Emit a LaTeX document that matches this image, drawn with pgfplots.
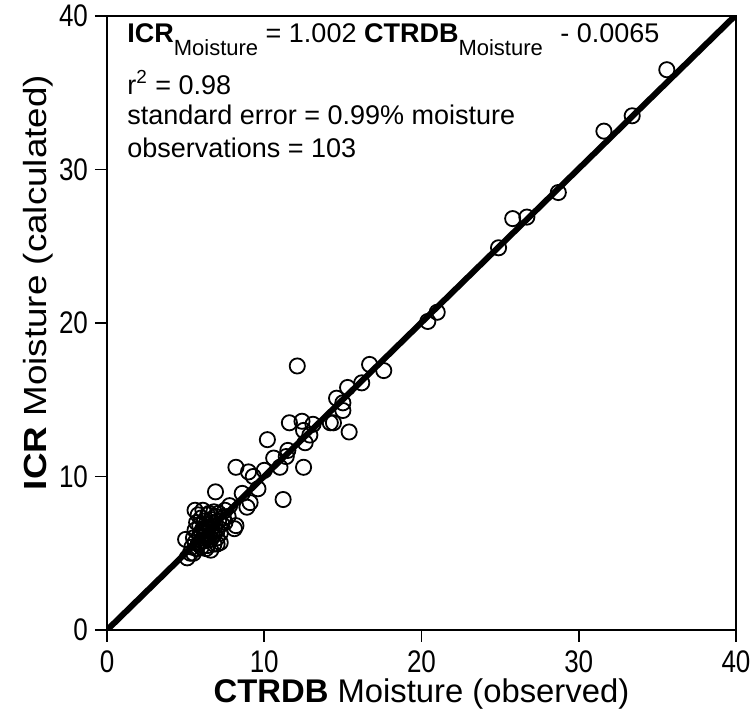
\documentclass[border=0pt]{standalone}
\usepackage{fontspec}
\setmainfont{Liberation Sans}
\usepackage{pgfplots}
\pgfplotsset{compat=1.18}

\newcommand{\sub}{\raisebox{-6.5pt}{\fontsize{11}{13}\selectfont Moisture}}

\begin{document}
\begin{tikzpicture}
\begin{axis}[
  scale only axis,
  width=314.5pt, height=307pt,
  xmin=0, xmax=40, ymin=0, ymax=40,
  xtick={0,10,20,30,40}, ytick={0,10,20,30,40},
  tick pos=left, tick align=outside,
  major tick length=6pt,
  axis line style={line width=1pt},
  every tick/.style={black, line width=0.8pt},
  tick label style={font=\fontsize{13}{15}\selectfont},
  xticklabel={\scalebox{1}[1.2]{\pgfmathprintnumber[assume math mode=true]{\tick}}},
  yticklabel={\scalebox{1}[1.2]{\pgfmathprintnumber[assume math mode=true]{\tick}}},
  xticklabel style={yshift=-1pt},
  xlabel={\textbf{CTRDB} Moisture (observed)},
  ylabel={\scalebox{1.15}[1]{\textbf{ICR} Moisture (calculated)}},
  xlabel style={font=\fontsize{16.4}{19}\selectfont, yshift=4pt},
  ylabel style={font=\fontsize{16}{19}\selectfont, at={(ticklabel cs:0.566)}, yshift=-4pt},
  clip=true,
]
\addplot[only marks, mark=o, mark size=3.8pt, mark options={line width=0.9pt, black}] coordinates {
(35.6,36.5) (33.4,33.5) (31.6,32.5) (28.7,28.5) (26.7,26.9) (25.8,26.8)
(24.9,24.9) (21.0,20.7) (20.4,20.1) (17.6,16.9) (16.7,17.3) (12.1,17.2)
(16.2,16.1) (15.3,15.8) (14.6,15.1) (15.0,14.8) (15.0,14.3) (15.4,12.9)
(14.2,13.5) (14.4,13.5) (11.6,13.5) (12.4,13.6) (13.1,13.4) (12.5,13.0)
(12.9,12.7) (12.6,12.2) (10.2,12.4) (11.5,11.7) (11.4,11.3) (10.6,11.2)
(12.5,10.6) (11.0,10.6) (10.0,10.4) (8.2,10.6) (9.0,10.3) (9.3,10.0)
(9.6,9.2) (6.9,9.0) (8.6,8.9) (9.1,8.3) (8.9,8.0) (11.2,8.5)
(8.2,6.8) (8.1,6.6) (7.8,8.1) (7.5,7.8)
(5.3,5.0) (5.1,4.7) (5.0,5.9) (6.6,5.2) (7.2,5.7) (5.6,7.8)
(5.5,6.0) (5.6,6.5) (5.7,7.0) (5.8,5.6) (5.9,6.2) (5.9,6.8) (6.0,7.3)
(6.0,5.4) (6.1,6.0) (6.1,6.6) (6.2,7.1) (6.2,5.8) (6.3,6.3) (6.3,6.9)
(6.4,7.5) (6.4,5.5) (6.5,6.1) (6.5,6.7) (6.6,7.2) (6.6,5.9) (6.7,6.4)
(6.7,7.0) (6.8,5.6) (6.8,6.2) (6.9,6.8) (6.9,7.4) (7.0,6.0) (7.0,6.5)
(7.1,7.1) (7.2,6.3) (7.3,6.9) (7.4,7.3) (5.4,5.4) (5.7,5.3) (6.0,6.4)
(6.2,6.5) (6.4,6.0) (6.5,7.6) (6.8,7.7) (7.1,7.6) (5.8,7.5) (6.1,7.8)
(6.3,5.3) (5.5,5.0) (7.5,7.0) (7.7,7.4) (6.6,6.5) (6.0,5.8) (5.6,5.7)
(7.0,5.6) (6.3,6.6)
};
\addplot[black, line width=3pt] coordinates {(0,-0.0065) (40,40.0735)};
\node[anchor=base west, font=\fontsize{13.5}{15}\selectfont, inner sep=0pt] at (axis cs:1.27,38.3)
  {\textbf{ICR}\sub{} = 1.002 \textbf{CTRDB}\sub{}\hspace{5pt} - 0.0065};
\node[anchor=base west, font=\fontsize{13.5}{15}\selectfont, inner sep=0pt] at (axis cs:1.27,34.9)
  {r\textsuperscript{2} = 0.98};
\node[anchor=base west, font=\fontsize{13.5}{15}\selectfont, inner sep=0pt] at (axis cs:1.27,32.9)
  {standard error = 0.99\% moisture};
\node[anchor=base west, font=\fontsize{13.5}{15}\selectfont, inner sep=0pt] at (axis cs:1.27,30.8)
  {observations = 103};
\end{axis}
\pgfresetboundingbox
\path[use as bounding box] (-53.5pt,-43.5pt) rectangle (322pt,315pt);
\end{tikzpicture}
\end{document}
